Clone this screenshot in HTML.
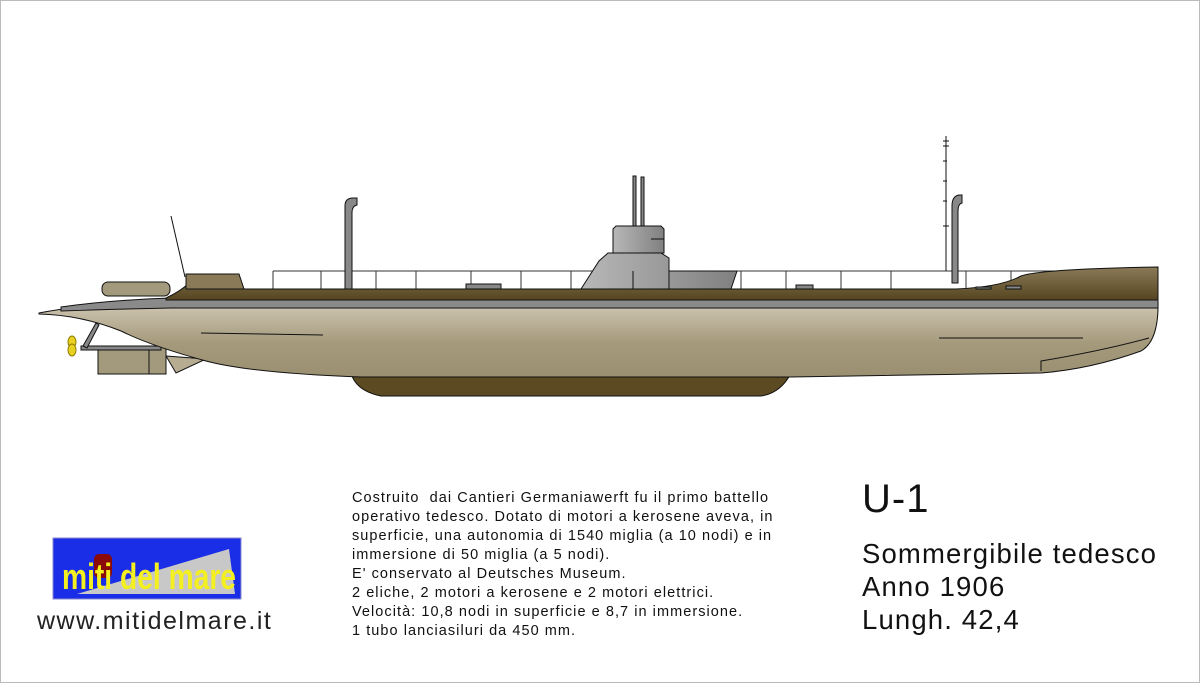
<!DOCTYPE html>
<html><head><meta charset="utf-8"><style>
html,body{margin:0;padding:0;background:#fff}
#w{position:relative;width:1200px;height:683px;overflow:hidden;box-sizing:border-box;border:1px solid #bbb;font-family:"Liberation Sans",sans-serif}
.t{position:absolute;white-space:nowrap;color:#111}
</style></head><body><div id="w">
<svg width="1200" height="683" style="position:absolute;left:0;top:0">
<defs>
<linearGradient id="hull" x1="0" y1="0" x2="0" y2="1"><stop offset="0" stop-color="#d2c9b6"/><stop offset="0.55" stop-color="#a59a7c"/><stop offset="1" stop-color="#9a8f70"/></linearGradient>
<linearGradient id="deck" x1="0" y1="0" x2="0" y2="1"><stop offset="0" stop-color="#8a7a58"/><stop offset="1" stop-color="#55451f"/></linearGradient>
<linearGradient id="tow" x1="0" y1="0" x2="1" y2="0"><stop offset="0" stop-color="#b8b8b8"/><stop offset="1" stop-color="#808080"/></linearGradient>
</defs>
<g stroke="#111" stroke-width="1">
<g fill="none" stroke="#333"><path d="M272 270H1060"/>
<path d="M272 270V288M320 270V288M375 270V288M415 270V288M470 270V288M520 270V288M570 270V288M740 270V288M785 270V288M840 270V288M890 270V288M965 270V288M1010 270V288"/></g>
<path d="M170 215L184 276" fill="none"/>
<path d="M945 135V270M942 140H948M942 145H948M942 160H946M942 180H946M942 200H946M942 225H948" fill="none"/>
<path d="M344 288V205Q344 197 352 197H356V204Q351 205 351 212V288Z" fill="#888"/>
<path d="M951 282V205Q951 195 958 194H961V202Q957 203 957 210V282Z" fill="#888"/>
<rect x="632" y="175" width="3" height="52" fill="#888"/><rect x="640" y="176" width="3" height="51" fill="#888"/>
<path d="M612 252V228L615 225H660L663 228V252Z" fill="url(#tow)"/>
<path d="M580 288L598 260L607 252L660 252L668 257L668 270L736 270L730 288Z" fill="url(#tow)"/>
<path d="M668 270V288M632 270V288M650 238H663" fill="none"/>
<path d="M350 372L790 372Q780 392 760 395L380 395Q355 390 350 372Z" fill="#5c4b22"/>
<path d="M165 355L205 358L175 372Z" fill="#b5ac92"/>
<path d="M97 350V373H165V345H100Z" fill="#a39a7e"/>
<path d="M148 345V373" fill="none"/>
<path d="M80 345H160V349H80Z" fill="#888"/>
<path d="M82 345L95 322L98 324L86 347Z" fill="#888"/>
<ellipse cx="71" cy="341" rx="4" ry="6" fill="#e8d020" stroke="#8a7a00"/>
<ellipse cx="71" cy="349" rx="4" ry="6" fill="#e8d020" stroke="#8a7a00"/>
<rect x="101" y="281" width="68" height="14" rx="6" fill="#a39a7e"/>
<path d="M38 312Q90 302 170 300L1157 300Q1158 340 1140 350Q1090 368 1040 372L790 376L360 376Q250 372 205 360Q150 345 120 330Q80 314 38 313Z" fill="url(#hull)"/>
<path d="M60 306Q110 299 170 297H1157V307H170Q120 308 60 310Z" fill="#8a8a8a"/>
<path d="M165 297Q180 290 188 282L240 282V288L955 288Q1000 286 1020 275Q1040 268 1157 266V299H165Z" fill="url(#deck)"/>
<path d="M185 288V273H238L243 288Z" fill="#8a7a58"/>
<path d="M465 288V283H500V288Z M795 288V284H812V288Z M975 288V286H990V288Z M1005 288V285H1020V288Z" fill="#888"/>
<path d="M200 332L322 334M938 337L1082 337M1040 370V360Q1100 350 1148 337" fill="none"/>
</g>
<rect x="52" y="537" width="188" height="61" fill="#1a2ee8" stroke="#8888cc"/>
<path d="M76 593L228 548L234 593Z" fill="#c8c8c8"/>
<rect x="93" y="553" width="18" height="24" rx="5" fill="#8a0a0a"/>
<text x="61" y="588" font-family="Liberation Sans" font-weight="bold" font-size="36" fill="#f4f020" textLength="174" lengthAdjust="spacingAndGlyphs">miti del mare</text>
</svg>
<div class="t" style="left:36px;top:606px;font-size:25px;letter-spacing:1.5px;color:#222">www.mitidelmare.it</div>
<div class="t" style="left:351px;top:488px;font-size:14.5px;line-height:19px;letter-spacing:1.05px">Costruito&nbsp; dai Cantieri Germaniawerft fu il primo battello<br>operativo tedesco. Dotato di motori a kerosene aveva, in<br>superficie, una autonomia di 1540 miglia (a 10 nodi) e in<br>immersione di 50 miglia (a 5 nodi).<br>E' conservato al Deutsches Museum.<br>2 eliche, 2 motori a kerosene e 2 motori elettrici.<br>Velocità: 10,8 nodi in superficie e 8,7 in immersione.<br>1 tubo lanciasiluri da 450 mm.</div>
<div class="t" style="left:861px;top:476px;font-size:40px;letter-spacing:1px">U-1</div>
<div class="t" style="left:861px;top:536px;font-size:27.5px;line-height:33px;letter-spacing:1.15px">Sommergibile tedesco<br>Anno 1906<br>Lungh. 42,4</div>
</div></body></html>
